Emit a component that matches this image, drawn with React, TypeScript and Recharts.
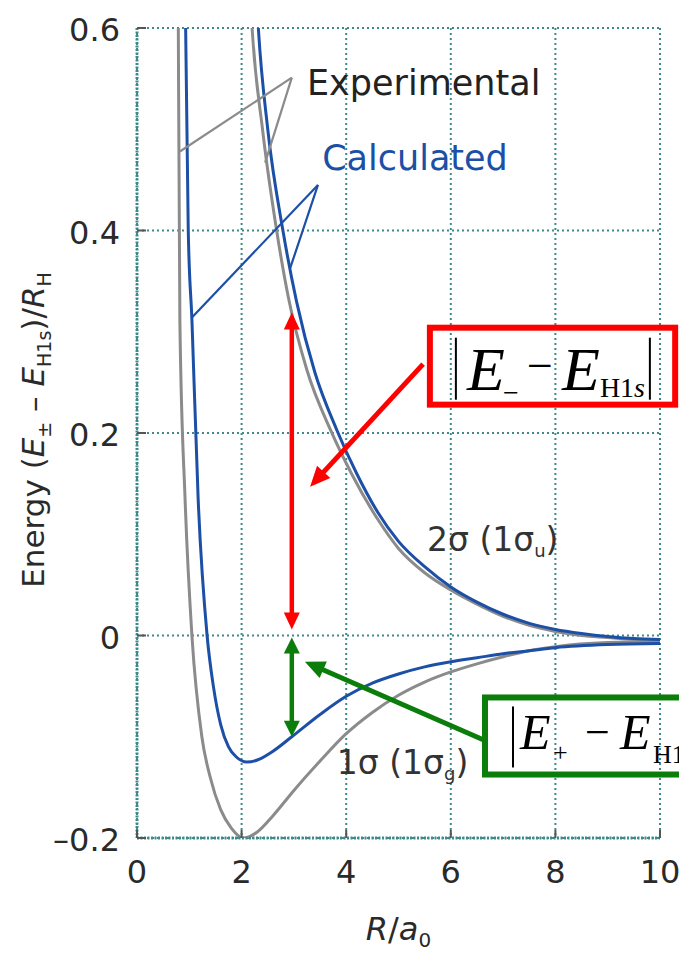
import React from 'react';
import {
  LineChart,
  Line,
  XAxis,
  YAxis,
  CartesianGrid,
  ReferenceLine,
  ReferenceArea,
  ReferenceDot,
} from 'recharts';

// ---- axes ----
const xTicks = [0, 2, 4, 6, 8, 10];
const xTickLabels = ['0', '2', '4', '6', '8', '10'];
const yTicks = [-0.2, 0, 0.2, 0.4, 0.6];
const yTickLabels = ['\u20130.2', '0', '0.2', '0.4', '0.6'];

// ---- series (R / a0, energy / R_H) ----
const expLowerR = [0.782, 0.79, 0.82, 0.92, 1.05, 1.24, 1.4, 1.6, 1.8, 2.03, 2.3, 2.6, 3.0, 3.5, 4.0, 4.5, 5.0, 5.5, 6.0, 6.5, 7.0, 7.5, 8.0, 9.0, 10.0];
const expLowerE = [0.7, 0.6, 0.31, 0.134, 0, -0.1, -0.14, -0.172, -0.19, -0.2, -0.194, -0.178, -0.153, -0.124, -0.097, -0.076, -0.059, -0.046, -0.036, -0.028, -0.021, -0.015, -0.011, -0.007, -0.006];

const calcLowerR = [0.915, 0.93, 0.98, 1.05, 1.17, 1.34, 1.46, 1.6, 1.75, 1.9, 2.1, 2.3, 2.55, 2.96, 3.5, 4.0, 4.5, 5.0, 5.5, 6.0, 6.5, 7.0, 7.5, 8.0, 9.0, 10.0];
const calcLowerE = [0.7, 0.6, 0.4, 0.312, 0.134, 0, -0.05, -0.088, -0.11, -0.12, -0.125, -0.123, -0.116, -0.1, -0.078, -0.06, -0.047, -0.038, -0.031, -0.026, -0.022, -0.018, -0.015, -0.012, -0.009, -0.008];

const calcUpperR = [2.22, 2.32, 2.5, 2.79, 3.05, 3.4, 3.82, 4.2, 4.6, 5.0, 5.5, 6.0, 6.5, 7.0, 7.5, 8.0, 8.5, 9.0, 9.5, 10.0];
const calcUpperE = [0.7, 0.6, 0.5, 0.4, 0.33, 0.26, 0.203, 0.16, 0.122, 0.093, 0.068, 0.048, 0.033, 0.021, 0.012, 0.006, 0.002, -0.001, -0.003, -0.004];

const expUpperR = [2.1, 2.2, 2.4, 2.67, 2.89, 3.25, 3.7, 4.1, 4.6, 5.0, 5.5, 6.0, 6.5, 7.0, 7.5, 8.0, 8.5, 9.0, 9.5, 10.0];
const expUpperE = [0.7, 0.6, 0.5, 0.4, 0.335, 0.262, 0.203, 0.16, 0.115, 0.086, 0.062, 0.045, 0.031, 0.019, 0.01, 0.004, 0.0, -0.002, -0.004, -0.005];

// ---- annotation anchors (data coordinates) ----
const expPointerApex = { x: 2.96, y: 0.551 };
const expPointerEnds = [{ x: 0.82, y: 0.478 }, { x: 2.45, y: 0.467 }];
const calcPointerApex = { x: 3.46, y: 0.445 };
const calcPointerEnds = [{ x: 1.05, y: 0.314 }, { x: 2.93, y: 0.363 }];

const redVertical = [{ x: 2.96, y: 0.319 }, { x: 2.96, y: 0.006 }];
const greenVertical = [{ x: 2.96, y: -0.002 }, { x: 2.96, y: -0.1 }];
const redDiagonal = [{ x: 5.47, y: 0.268 }, { x: 3.31, y: 0.147 }];
const greenDiagonal = [{ x: 6.62, y: -0.103 }, { x: 3.21, y: -0.026 }];

const redBox = { x1: 5.6, x2: 10.29, y1: 0.228, y2: 0.304 };
const greenBox = { x1: 6.654, x2: 10.8, y1: -0.1373, y2: -0.0612 };

const expLabelPos = { x: 3.25, y: 0.534 };
const calcLabelPos = { x: 3.54, y: 0.46 };
const antiLabelPos = { x: 5.545, y: 0.083 };
const bondLabelPos = { x: 3.82, y: -0.137 };

const zip = (r: number[], e: number[]) => r.map((x, i) => ({ x, y: e[i] }));

const GRID = '#3e8a8a';
const BLUE = '#1c4fa6';
const GRAY = '#8b8b8b';
const SANS = 'DejaVu Sans';
const SERIF = 'Liberation Serif';

const YTick = (props: any) => {
  const { x, y, payload } = props;
  const idx = yTicks.indexOf(payload.value);
  return (
    <g>
      <line x1={x} y1={y} x2={x + 9} y2={y} stroke="#555" strokeWidth={2} />
      <text x={x - 17} y={y + 13} textAnchor="end" fontFamily={SANS} fontSize={32} fill="#2a2a2a">
        {idx >= 0 ? yTickLabels[idx] : payload.value}
      </text>
    </g>
  );
};

const XTick = (props: any) => {
  const { x, y, payload } = props;
  const idx = xTicks.indexOf(payload.value);
  return (
    <g>
      <line x1={x} y1={y} x2={x} y2={y - 8} stroke="#555" strokeWidth={2} />
      <text x={x} y={y + 45} textAnchor="middle" fontFamily={SANS} fontSize={32} fill="#2a2a2a">
        {idx >= 0 ? xTickLabels[idx] : payload.value}
      </text>
    </g>
  );
};

const XTitle = (props: any) => {
  const vb = props.viewBox || { x: 137, y: 838, width: 523, height: 117 };
  const cx = vb.x + vb.width / 2;
  const y = vb.y + 102;
  return (
    <text x={cx} y={y} textAnchor="middle" fontFamily={SANS} fontSize={32} fill="#2a2a2a">
      <tspan fontStyle="italic">R</tspan>
      <tspan>/</tspan>
      <tspan fontStyle="italic">a</tspan>
      <tspan fontSize={20} dy={7}>0</tspan>
    </text>
  );
};

const YTitle = (props: any) => {
  const vb = props.viewBox || { x: 0, y: 28, width: 137, height: 810 };
  const cx = vb.x + 44;
  const cy = vb.y + 402;
  return (
    <text
      x={cx}
      y={cy}
      transform={`rotate(-90 ${cx} ${cy})`}
      textAnchor="middle"
      fontFamily={SANS}
      fontSize={31}
      fill="#2a2a2a"
    >
      <tspan>Energy (</tspan>
      <tspan fontStyle="italic">E</tspan>
      <tspan fontSize={19} dy={7}>±</tspan>
      <tspan dy={-7}> – </tspan>
      <tspan fontStyle="italic">E</tspan>
      <tspan fontSize={19} dy={7}>H1s</tspan>
      <tspan dy={-7}>)/</tspan>
      <tspan fontStyle="italic">R</tspan>
      <tspan fontSize={19} dy={7}>H</tspan>
    </text>
  );
};

const makeArrow = (color: string, width: number, headLen: number, headW: number, both: boolean) => (p: any) => {
  const { x1, y1, x2, y2 } = p;
  const dx = x2 - x1;
  const dy = y2 - y1;
  const len = Math.sqrt(dx * dx + dy * dy) || 1;
  const ux = dx / len;
  const uy = dy / len;
  const nx = -uy;
  const ny = ux;
  const head = (tx: number, ty: number, sx: number, sy: number) => {
    const bx = tx - sx * headLen;
    const by = ty - sy * headLen;
    return `${tx},${ty} ${bx + (nx * headW) / 2},${by + (ny * headW) / 2} ${bx - (nx * headW) / 2},${by - (ny * headW) / 2}`;
  };
  const sx = both ? x1 + ux * headLen * 0.8 : x1;
  const sy = both ? y1 + uy * headLen * 0.8 : y1;
  const ex = x2 - ux * headLen * 0.8;
  const ey = y2 - uy * headLen * 0.8;
  return (
    <g>
      <line x1={sx} y1={sy} x2={ex} y2={ey} stroke={color} strokeWidth={width} />
      <polygon points={head(x2, y2, ux, uy)} fill={color} />
      {both ? <polygon points={head(x1, y1, -ux, -uy)} fill={color} /> : null}
    </g>
  );
};

const plainLine = (color: string, width: number) => (p: any) => (
  <line x1={p.x1} y1={p.y1} x2={p.x2} y2={p.y2} stroke={color} strokeWidth={width} />
);

const RedBoxShape = (p: any) => {
  const { x, y, width, height } = p;
  return (
    <g>
      <rect x={x} y={y} width={width} height={height} fill="none" stroke="#ff0000" strokeWidth={6} />
      <line x1={x + 26} y1={y + 10} x2={x + 26} y2={y + 72} stroke="#000" strokeWidth={2} />
      <text x={x + 37} y={y + 62} fontFamily={SERIF} fontStyle="italic" fontSize={62} fill="#000">E</text>
      <text x={x + 73} y={y + 74} fontFamily={SERIF} fontSize={28} fill="#000">−</text>
      <text x={x + 97} y={y + 53} fontFamily={SERIF} fontSize={46} fill="#000">−</text>
      <text x={x + 132} y={y + 62} fontFamily={SERIF} fontStyle="italic" fontSize={62} fill="#000">E</text>
      <text x={x + 170} y={y + 69} fontFamily={SERIF} fontSize={28} fill="#000">
        H1<tspan fontStyle="italic">s</tspan>
      </text>
      <line x1={x + 220} y1={y + 10} x2={x + 220} y2={y + 72} stroke="#000" strokeWidth={2} />
    </g>
  );
};

const GreenBoxShape = (p: any) => {
  const { x, y, width, height } = p;
  return (
    <g>
      <rect x={x} y={y} width={width} height={height} fill="none" stroke="#0a7d0a" strokeWidth={6} />
      <line x1={x + 28} y1={y + 9} x2={x + 28} y2={y + 70} stroke="#000" strokeWidth={2} />
      <text x={x + 35} y={y + 52} fontFamily={SERIF} fontStyle="italic" fontSize={50} fill="#000">E</text>
      <text x={x + 68} y={y + 64} fontFamily={SERIF} fontSize={26} fill="#000">+</text>
      <text x={x + 100} y={y + 50} fontFamily={SERIF} fontSize={44} fill="#000">−</text>
      <text x={x + 135} y={y + 52} fontFamily={SERIF} fontStyle="italic" fontSize={50} fill="#000">E</text>
      <text x={x + 168} y={y + 66} fontFamily={SERIF} fontSize={26} fill="#000">
        H1<tspan fontStyle="italic">s</tspan>
      </text>
    </g>
  );
};

const textAt = (content: React.ReactNode, color: string, size: number) => (p: any) => (
  <text x={p.cx} y={p.cy} fontFamily={SANS} fontSize={size} fill={color}>
    {content}
  </text>
);

export default function App() {
  const gridStyle = { stroke: GRID, strokeWidth: 2, strokeDasharray: '2 3' };
  return (
    <div style={{ position: 'absolute', left: 0, top: 0, width: 679, height: 955, background: '#fff', overflow: 'hidden' }}>
      <LineChart width={679} height={955} margin={{ top: 28, right: 19, left: 0, bottom: 0 }}>
        <CartesianGrid {...gridStyle} />
        <XAxis
          type="number"
          dataKey="x"
          domain={[0, 10]}
          ticks={xTicks}
          height={117}
          tickSize={0}
          tickMargin={0}
          tick={<XTick />}
          axisLine={{ stroke: GRID, strokeWidth: 3, strokeDasharray: '2 1.5' }}
          label={(props: any) => <XTitle {...props} />}
        />
        <YAxis
          type="number"
          domain={[-0.2, 0.6]}
          ticks={yTicks}
          width={137}
          allowDataOverflow
          tickSize={0}
          tickMargin={0}
          tick={<YTick />}
          axisLine={{ stroke: GRID, strokeWidth: 3, strokeDasharray: '2 1.5' }}
          label={(props: any) => <YTitle {...props} />}
        />

        <Line data={zip(expLowerR, expLowerE)} dataKey="y" type="monotone" stroke={GRAY} strokeWidth={3} dot={false} isAnimationActive={false} />
        <Line data={zip(expUpperR, expUpperE)} dataKey="y" type="monotone" stroke={GRAY} strokeWidth={3} dot={false} isAnimationActive={false} />
        <Line data={zip(calcLowerR, calcLowerE)} dataKey="y" type="monotone" stroke={BLUE} strokeWidth={3} dot={false} isAnimationActive={false} />
        <Line data={zip(calcUpperR, calcUpperE)} dataKey="y" type="monotone" stroke={BLUE} strokeWidth={3} dot={false} isAnimationActive={false} />

        {expPointerEnds.map((e, i) => (
          <ReferenceLine key={'ep' + i} segment={[expPointerApex, e]} shape={plainLine(GRAY, 2.2)} />
        ))}
        {calcPointerEnds.map((e, i) => (
          <ReferenceLine key={'cp' + i} segment={[calcPointerApex, e]} shape={plainLine(BLUE, 2.2)} />
        ))}

        <ReferenceArea x1={redBox.x1} x2={redBox.x2} y1={redBox.y1} y2={redBox.y2} ifOverflow="visible" shape={RedBoxShape} />
        <ReferenceArea x1={greenBox.x1} x2={greenBox.x2} y1={greenBox.y1} y2={greenBox.y2} ifOverflow="visible" shape={GreenBoxShape} />

        <ReferenceLine segment={redVertical} shape={makeArrow('#ff0000', 4.5, 17, 16, true)} />
        <ReferenceLine segment={greenVertical} shape={makeArrow('#0a7d0a', 4.5, 16, 16, true)} />
        <ReferenceLine segment={redDiagonal} shape={makeArrow('#ff0000', 5, 20, 18, false)} />
        <ReferenceLine segment={greenDiagonal} shape={makeArrow('#0a7d0a', 5, 20, 18, false)} />

        <ReferenceDot x={expLabelPos.x} y={expLabelPos.y} r={1} shape={textAt('Experimental', '#222', 35)} />
        <ReferenceDot x={calcLabelPos.x} y={calcLabelPos.y} r={1} shape={textAt('Calculated', BLUE, 35)} />
        <ReferenceDot
          x={antiLabelPos.x}
          y={antiLabelPos.y}
          r={1}
          shape={textAt(
            <>
              2σ (1σ<tspan fontSize={18} dy={6}>u</tspan>
              <tspan dy={-6}>)</tspan>
            </>,
            '#333',
            33,
          )}
        />
        <ReferenceDot
          x={bondLabelPos.x}
          y={bondLabelPos.y}
          r={1}
          shape={textAt(
            <>
              1σ (1σ<tspan fontSize={18} dy={6}>g</tspan>
              <tspan dy={-6}>)</tspan>
            </>,
            '#333',
            33,
          )}
        />
      </LineChart>
    </div>
  );
}
